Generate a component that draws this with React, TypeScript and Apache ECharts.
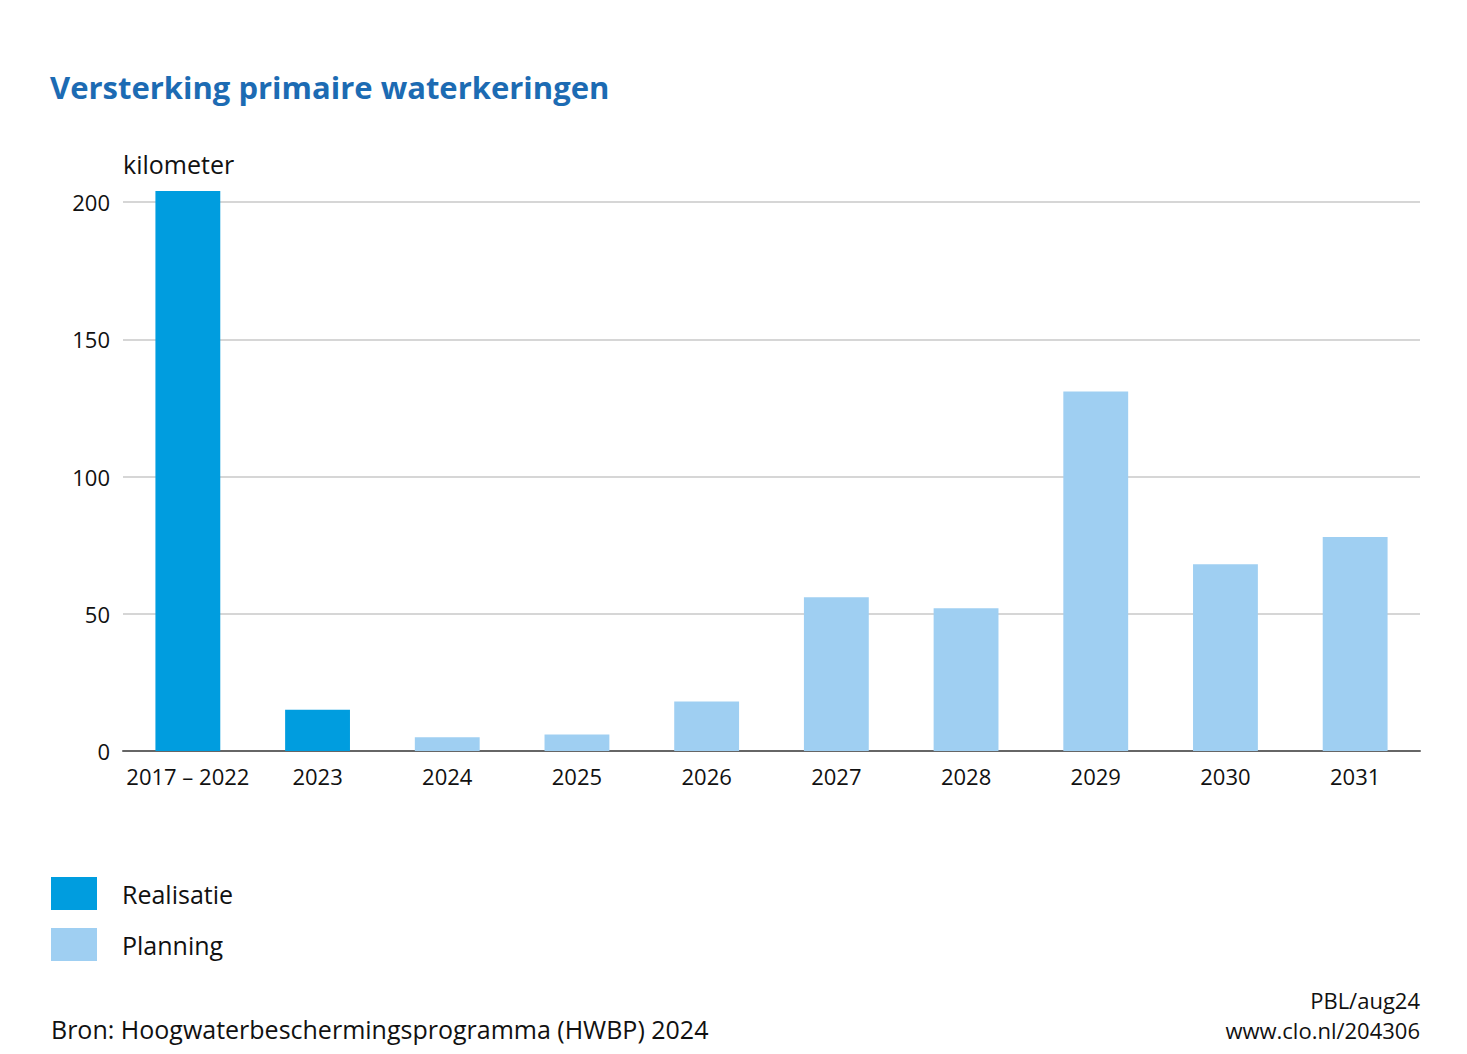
import React, { useEffect, useRef } from "react";
import * as echarts from "echarts";

const categories = ["2017 – 2022", "2023", "2024", "2025", "2026", "2027", "2028", "2029", "2030", "2031"];
const realisatie = [204, 15, "-", "-", "-", "-", "-", "-", "-", "-"];
const planning = ["-", "-", 5, 6, 18, 56, 52, 131, 68, 78];
const yTicks = [0, 50, 100, 150, 200];

const FONT = "'Open Sans', 'Noto Sans', sans-serif";

export default function App() {
  const ref = useRef<HTMLDivElement>(null);
  useEffect(() => {
    const chart = echarts.init(ref.current!, null, { renderer: "svg" });
    chart.setOption({
      animation: false,
      backgroundColor: "#ffffff",
      textStyle: { fontFamily: FONT },
      title: {
        text: "Versterking primaire waterkeringen",
        left: 45,
        top: 66,
        textStyle: { fontFamily: FONT, fontSize: 31, fontWeight: "bold", color: "#1c6bb3" },
      },
      grid: { left: 123, right: 47, top: 202, bottom: 303 },
      legend: {
        orient: "vertical",
        left: 46,
        top: 872,
        itemWidth: 46,
        itemHeight: 33,
        itemGap: 18,
        icon: "rect",
        selectedMode: false,
        textStyle: { fontFamily: FONT, fontSize: 25, color: "#111", padding: [0, 0, 3, 20] },
        data: ["Realisatie", "Planning"],
      },
      xAxis: {
        type: "category",
        data: categories,
        axisLine: { lineStyle: { color: "#666", width: 2 } },
        axisTick: { show: false },
        axisLabel: { fontFamily: FONT, fontSize: 22, color: "#111", margin: 14, interval: 0 },
      },
      yAxis: {
        type: "value",
        min: yTicks[0],
        max: yTicks[yTicks.length - 1],
        interval: 50,
        name: "kilometer",
        nameLocation: "end",
        nameGap: 26,
        nameTextStyle: { fontFamily: FONT, fontSize: 25, color: "#111", align: "left" },
        axisLine: { show: false },
        axisTick: { show: false },
        axisLabel: { fontFamily: FONT, fontSize: 22, color: "#111", margin: 13 },
        splitLine: { lineStyle: { color: "#c8c8c8", width: 1.5 } },
      },
      series: [
        {
          name: "Realisatie",
          type: "bar",
          stack: "a",
          barWidth: "50%",
          clip: false,
          itemStyle: { color: "#009ddf" },
          data: realisatie,
        },
        {
          name: "Planning",
          type: "bar",
          stack: "a",
          barWidth: "50%",
          clip: false,
          itemStyle: { color: "#9fcff2" },
          data: planning,
        },
      ],
      graphic: [
        {
          type: "text",
          left: 51,
          top: 1016,
          style: { text: "Bron: Hoogwaterbeschermingsprogramma (HWBP) 2024", font: `25px ${FONT}`, fill: "#111" },
        },
        {
          type: "text",
          right: 47,
          top: 989,
          style: { text: "PBL/aug24", font: `22px ${FONT}`, fill: "#111", align: "right" },
        },
        {
          type: "text",
          right: 47,
          top: 1019,
          style: { text: "www.clo.nl/204306", font: `22px ${FONT}`, fill: "#111", align: "right" },
        },
      ],
    });
    return () => chart.dispose();
  }, []);
  return <div ref={ref} style={{ width: 1467, height: 1054, position: "absolute", left: 0, top: 0 }} />;
}
